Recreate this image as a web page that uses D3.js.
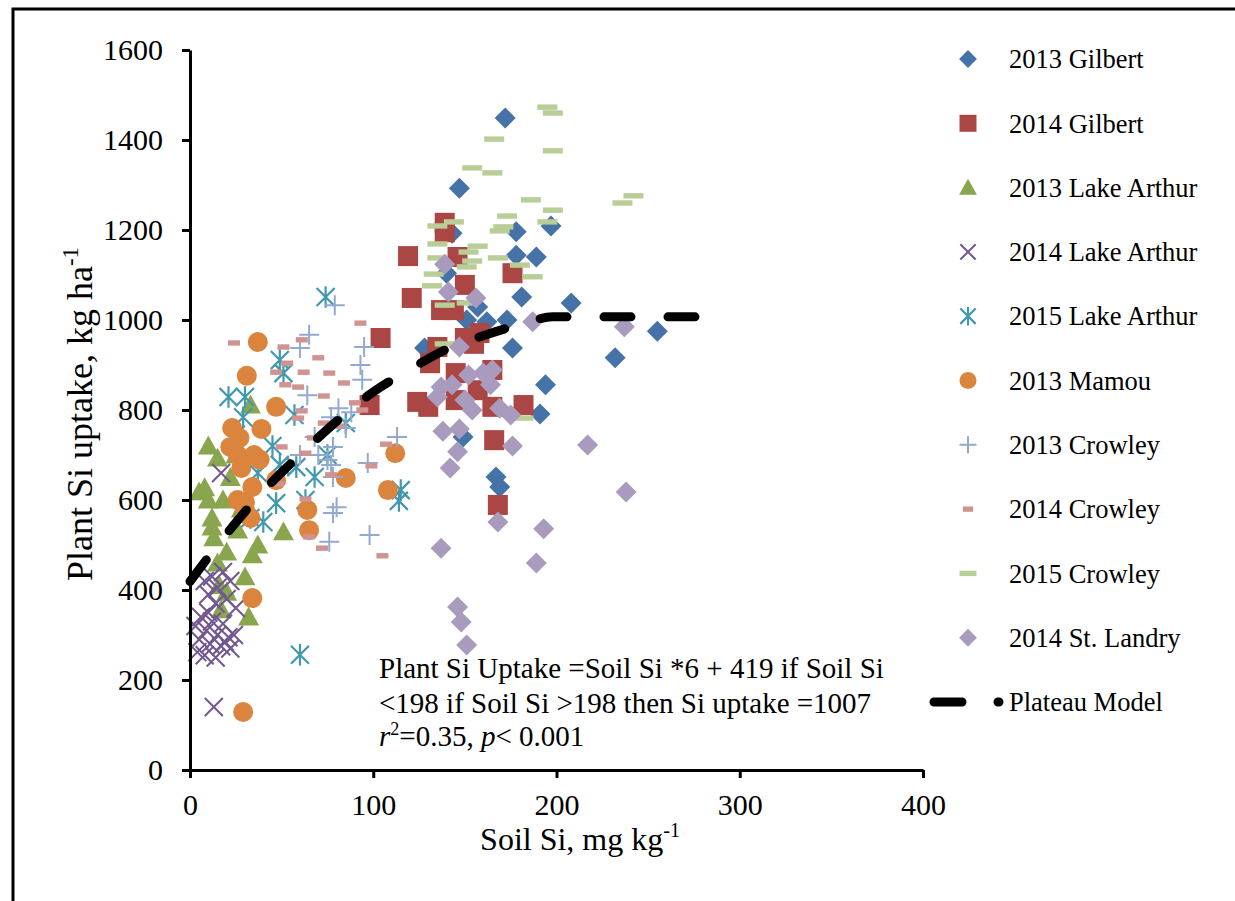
<!DOCTYPE html>
<html>
<head>
<meta charset="utf-8">
<script src="https://cdn.jsdelivr.net/npm/d3@7"></script>
<style>
  html, body { margin:0; background:#fff; overflow:hidden; }
  svg { display:block; font-family:"Liberation Serif","Times New Roman",serif; }
</style>
</head>
<body>
<div id="chart"></div>
<script>
// values: [soil Si mg/kg, plant Si uptake kg/ha]
const gilbert2013 = [[172,1449],[147,1293],[178,1196],[197,1209],[189,1140],[178,1144],[181,1051],[208,1038],
  [140,1104],[143,1193],[173,1000],[157,1029],[151,1000],[162,996],[128,938],[176,938],[232,916],[255,975],
  [194,856],[191,791],[149,740],[167,651],[169,629]];
const gilbert2014 = [[139,1216],[139,1195],[119,1142],[121,1049],[176,1104],[150,1078],[146,1140],[137,1022],
  [144,1022],[104,960],[158,971],[135,940],[155,947],[131,904],[124,818],[130,807],[145,822],[157,844],
  [165,889],[145,882],[165,807],[182,811],[166,733],[168,589],[98,811],[150,960]];
const lakeArthur2013 = [[33,811],[15,693],[10,720],[8,627],[5,618],[18,600],[12,560],[12,540],[26,533],[51,529],
  [13,516],[37,500],[20,484],[34,478],[15,460],[30,429],[17,356],[32,340],[22,650],[25,700],[10,600],[16,410],
  [20,395],[28,580]];
const lakeArthur2014 = [[13,140],[17,660],[18,440],[12,430],[8,420],[22,420],[15,405],[10,390],[20,380],[14,370],
  [25,360],[6,340],[12,330],[18,325],[3,320],[9,310],[15,300],[21,295],[5,290],[11,280],[17,275],[22,270],
  [4,262],[8,255],[14,250],[19,285],[24,300],[10,350]];
const lakeArthur2015 = [[74,1051],[21,829],[30,829],[51,882],[49,911],[57,789],[29,784],[85,771],[49,678],[58,673],
  [68,651],[47,593],[40,551],[37,660],[115,622],[114,598],[60,256],[45,720],[63,600],[33,560],[25,745],[75,700]];
const mamou2013 = [[37,951],[31,876],[47,807],[23,760],[39,758],[27,738],[22,718],[26,700],[35,700],[28,671],
  [47,644],[34,629],[26,600],[30,578],[33,560],[64,578],[65,533],[85,649],[112,704],[108,622],[34,382],[29,129],
  [30,595],[38,690]];
const crowley2013 = [[79,1033],[65,967],[60,938],[95,940],[93,900],[64,833],[94,867],[81,804],[77,784],[88,795],
  [78,718],[70,700],[75,689],[77,678],[97,682],[78,651],[80,584],[78,571],[98,522],[76,507],[113,740],[85,760],
  [68,740],[60,700]];
const crowley2014 = [[24,949],[51,940],[61,956],[93,993],[70,916],[53,904],[47,884],[62,884],[76,882],[84,860],
  [52,856],[59,851],[73,831],[90,816],[61,798],[94,800],[73,771],[59,782],[81,764],[67,738],[50,718],[63,704],
  [99,676],[77,656],[48,636],[63,602],[65,518],[72,493],[105,476],[107,724]];
const crowley2015 = [[195,1473],[198,1460],[166,1402],[198,1376],[154,1338],[165,1327],[186,1267],[242,1276],
  [236,1260],[198,1244],[173,1231],[135,1209],[144,1218],[171,1207],[169,1198],[195,1218],[135,1169],[157,1164],
  [152,1151],[135,1138],[154,1131],[151,1118],[168,1138],[180,1122],[187,1096],[133,1102],[132,1076],[139,1033],
  [151,1038],[139,947],[182,782]];
const stLandry2014 = [[139,1124],[141,1062],[156,1049],[187,996],[237,985],[147,940],[152,878],[160,882],[165,889],
  [164,856],[143,856],[137,851],[135,829],[150,822],[154,800],[169,804],[175,789],[138,753],[147,758],[146,707],
  [142,671],[176,720],[217,722],[238,618],[168,551],[193,536],[137,493],[189,460],[146,362],[148,329],[151,278]];
// plateau model curve
const plateauX = [0, 20, 40, 60, 80, 100, 120, 140, 160, 180, 198, 240, 284];
const plateauY = [419, 525, 620, 700, 775, 840, 890, 935, 965, 990, 1007, 1007, 1007];

const xTicks = [0, 100, 200, 300, 400];
const yTicks = [0, 200, 400, 600, 800, 1000, 1200, 1400, 1600];

const W = 1235, H = 901;
const svg = d3.select("#chart").append("svg").attr("width", W).attr("height", H);

// outer frame (only left and top visible)
svg.append("path")
  .attr("d", "M13,901V9H1235")
  .attr("fill", "none").attr("stroke", "#000").attr("stroke-width", 3);

const x = d3.scaleLinear().domain([0, 400]).range([190, 923]);
const y = d3.scaleLinear().domain([0, 1600]).range([770, 50]);

// marker shapes (size = half width)
const shapes = {
  diamond: { draw(c, s) { c.moveTo(0, -s); c.lineTo(s, 0); c.lineTo(0, s); c.lineTo(-s, 0); c.closePath(); } },
  square: { draw(c, s) { c.rect(-s, -s, 2 * s, 2 * s); } },
  triangle: { draw(c, s) { c.moveTo(0, -s); c.lineTo(s, s * 0.8); c.lineTo(-s, s * 0.8); c.closePath(); } },
  cross: { draw(c, s) { c.moveTo(-s, -s); c.lineTo(s, s); c.moveTo(-s, s); c.lineTo(s, -s); } },
  star: { draw(c, s) { c.moveTo(-s, -s); c.lineTo(s, s); c.moveTo(-s, s); c.lineTo(s, -s); c.moveTo(0, -s * 1.2); c.lineTo(0, s * 1.2); } },
  circle: { draw(c, s) { c.moveTo(s, 0); c.arc(0, 0, s, 0, 2 * Math.PI); } },
  plus: { draw(c, s) { c.moveTo(-s, 0); c.lineTo(s, 0); c.moveTo(0, -s); c.lineTo(0, s); } },
  shortDash: { draw(c, s) { c.rect(-s, -2.7, 2 * s, 5.4); } },
  longDash: { draw(c, s) { c.rect(-s, -2.7, 2 * s, 5.4); } }
};

const series = [
  { name: "2013 Gilbert", data: gilbert2013, shape: "diamond", r: 10.5, fill: "#4572A7" },
  { name: "2014 Gilbert", data: gilbert2014, shape: "square", r: 10, fill: "#AA4643" },
  { name: "2013 Lake Arthur", data: lakeArthur2013, shape: "triangle", r: 10.5, fill: "#89A54E" },
  { name: "2014 Lake Arthur", data: lakeArthur2014, shape: "cross", r: 9, stroke: "#71588F", sw: 2 },
  { name: "2015 Lake Arthur", data: lakeArthur2015, shape: "star", r: 9, stroke: "#4198AF", sw: 2.2 },
  { name: "2013 Mamou", data: mamou2013, shape: "circle", r: 10, fill: "#DB843D" },
  { name: "2013 Crowley", data: crowley2013, shape: "plus", r: 10, stroke: "#93A9CF", sw: 2 },
  { name: "2014 Crowley", data: crowley2014, shape: "shortDash", r: 6, fill: "#D19392" },
  { name: "2015 Crowley", data: crowley2015, shape: "longDash", r: 10, fill: "#B9CD96" },
  { name: "2014 St. Landry", data: stLandry2014, shape: "diamond", r: 10.5, fill: "#A99BBD" }
];

const styleMark = (sel, s) => sel
  .attr("fill", s.fill || "none")
  .attr("stroke", s.stroke || "none")
  .attr("stroke-width", s.sw || 0);

// points
series.forEach(s => {
  const sym = d3.symbol().type(shapes[s.shape]).size(s.r);
  svg.append("g").selectAll("path")
    .data(s.data)
    .enter()
    .append("path")
    .attr("transform", d => `translate(${x(d[0])},${y(d[1])})`)
    .attr("d", sym)
    .call(styleMark, s);
});

// plateau model line
const plateau = plateauX.map((v, i) => [v, plateauY[i]]);
svg.append("path")
  .datum(plateau)
  .attr("d", d3.line().x(d => x(d[0])).y(d => y(d[1])).curve(d3.curveMonotoneX))
  .attr("fill", "none")
  .attr("stroke", "#000")
  .attr("stroke-width", 9)
  .attr("stroke-linecap", "round")
  .attr("stroke-dasharray", "27,37");

// axes
const yAxis = svg.append("g")
  .attr("transform", "translate(190,0)")
  .call(d3.axisLeft(y).tickValues(yTicks).tickFormat(d3.format("d"))
    .tickSize(8).tickSizeOuter(0).tickPadding(19));
const xAxis = svg.append("g")
  .attr("transform", "translate(0,770)")
  .call(d3.axisBottom(x).tickValues(xTicks).tickFormat(d3.format("d"))
    .tickSize(8).tickSizeOuter(0).tickPadding(16));
[xAxis, yAxis].forEach(a => {
  a.select(".domain").attr("stroke", "#000").attr("stroke-width", 3);
  a.selectAll(".tick line").attr("stroke", "#000").attr("stroke-width", 3);
  a.selectAll(".tick text")
    .attr("fill", "#000")
    .style("font-size", "30px")
    .style("font-family", "Liberation Serif, Times New Roman, serif");
});

// axis titles
const xTitle = svg.append("text")
  .attr("x", 580).attr("y", 850)
  .attr("text-anchor", "middle")
  .style("font-size", "32px");
xTitle.append("tspan").text("Soil Si, mg kg");
xTitle.append("tspan").attr("dy", -13).style("font-size", "20px").text("-1");

const yTitle = svg.append("text")
  .attr("transform", "translate(92,414) rotate(-90)")
  .attr("text-anchor", "middle")
  .style("font-size", "36px");
yTitle.append("tspan").text("Plant Si uptake, kg ha");
yTitle.append("tspan").attr("dy", -14).style("font-size", "23px").text("-1");

// equation note
const note = svg.append("g").style("font-size", "29px");
note.append("text").attr("x", 379).attr("y", 678).text("Plant Si Uptake =Soil Si *6 + 419 if Soil Si");
note.append("text").attr("x", 379).attr("y", 713).text("<198 if Soil Si >198 then Si uptake =1007");
const stat = note.append("text").attr("x", 379).attr("y", 746);
stat.append("tspan").style("font-style", "italic").text("r");
stat.append("tspan").attr("dy", -11).style("font-size", "18px").text("2");
stat.append("tspan").attr("dy", 11).text("=0.35, ");
stat.append("tspan").style("font-style", "italic").text("p");
stat.append("tspan").text("< 0.001");

// legend
const legend = svg.append("g").style("font-size", "26.5px");
const rowY = i => 59 + i * 64.3;
series.forEach((s, i) => {
  const sym = d3.symbol().type(shapes[s.shape]).size(s.r * 0.85);
  legend.append("path")
    .attr("transform", `translate(968,${rowY(i)})`)
    .attr("d", sym)
    .call(styleMark, s);
  legend.append("text")
    .attr("x", 1009).attr("y", rowY(i)).attr("dy", "0.35em")
    .text(s.name);
});
legend.append("line")
  .attr("x1", 934).attr("x2", 999)
  .attr("y1", rowY(10)).attr("y2", rowY(10))
  .attr("stroke", "#000").attr("stroke-width", 9)
  .attr("stroke-linecap", "round")
  .attr("stroke-dasharray", "28,36");
legend.append("text")
  .attr("x", 1009).attr("y", rowY(10)).attr("dy", "0.35em")
  .text("Plateau Model");
</script>
</body>
</html>
